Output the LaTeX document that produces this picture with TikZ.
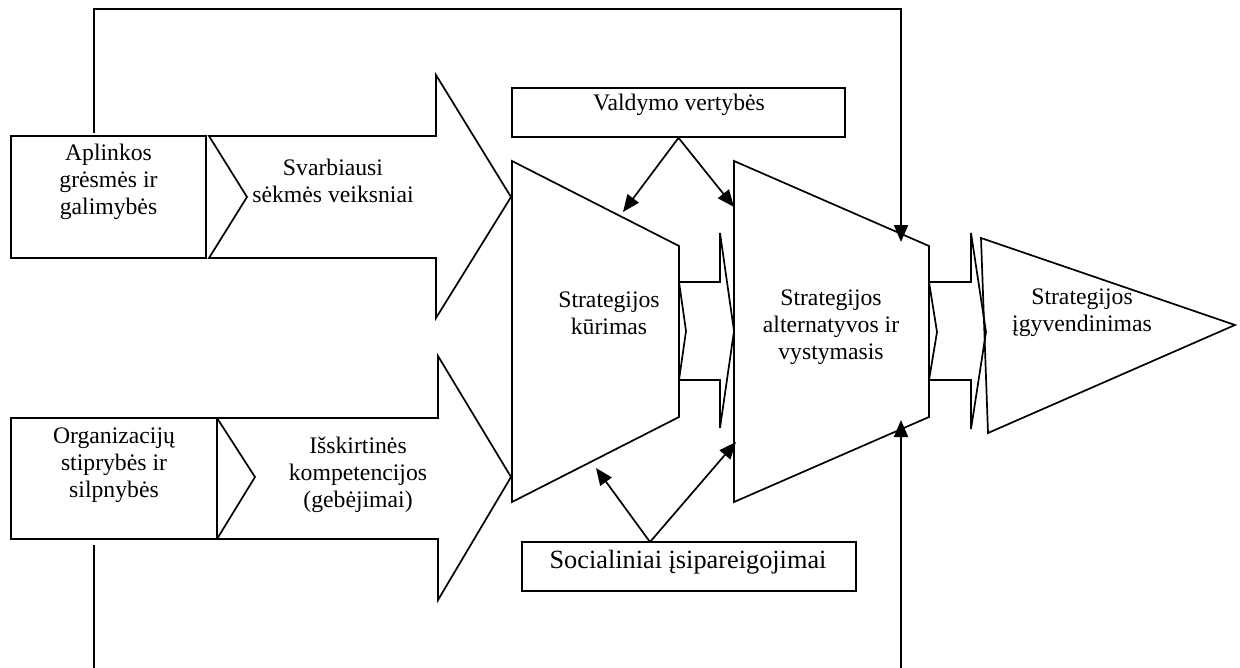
\documentclass[tikz,border=0pt]{standalone}
\usepackage{fontspec}
\setmainfont{Liberation Serif}
\usetikzlibrary{arrows.meta,calc}
\begin{document}
\begin{tikzpicture}[x=0.5pt,y=-0.5pt, line width=0.85pt, line join=miter,
  txt/.style={font=\fontsize{11.85}{13.5}\selectfont, align=center, inner sep=0pt},
  bigtxt/.style={font=\fontsize{13.15}{15}\selectfont, inner sep=0pt},
  box/.style={draw, inner sep=0pt},
  arr/.style={-{Triangle[length=8.5pt,width=7pt]}}]
\useasboundingbox (0,0) rectangle (1240,668);

% rectangular boxes
\node[box, minimum width=97.5pt, minimum height=61pt] (env) at (108.5,197) {};
\node[box, minimum width=103pt, minimum height=60.5pt] (org) at (114,478.5) {};
\node[box, minimum width=166.5pt, minimum height=24.5pt] (val) at (678.5,112.5) {};
\node[box, minimum width=167pt, minimum height=24.5pt] (soc) at (689,566.5) {};

% big block arrows
\draw (209,136) -- (436,136) -- (436,75) -- (511,197) -- (436,318) -- (436,258) -- (209,258) -- (247,197) -- cycle;
\draw (217,418) -- (438,418) -- (438,356) -- (511,477) -- (438,600) -- (438,539) -- (217,539) -- (255,477) -- cycle;

% trapezoids
\draw (512,161) -- (679,246) -- (679,417) -- (512,502) -- cycle;
\draw (734,161) -- (929,246) -- (929,417) -- (734,502) -- cycle;

% small block arrows
\draw (679,282) -- (720,282) -- (720,233) -- (734,331) -- (720,428) -- (720,380) -- (679,380) -- (686,331) -- cycle;
\draw (929,282) -- (971,282) -- (971,233) -- (986,332) -- (971,429) -- (971,380) -- (929,380) -- (937,332) -- cycle;

% triangle
\draw (981,238) -- (1235,325) -- (988,433) -- cycle;

% texts
\node[txt] (envt) at (108.5,182) {Aplinkos\\grėsmės ir\\galimybės};
\node[txt] (orgt) at (114,465) {Organizacijų\\stiprybės ir\\silpnybės};
\node[txt] (ssv) at (333,181) {Svarbiausi\\sėkmės veiksniai};
\node[txt] (isk) at (358,475) {Išskirtinės\\kompetencijos\\(gebėjimai)};
\node[txt] (kur) at (609,313) {Strategijos\\kūrimas};
\node[txt] (alt) at (831,327) {Strategijos\\alternatyvos ir\\vystymasis};
\node[txt] (igy) at (1082,313) {Strategijos\\įgyvendinimas};
\node[txt] (valt) at (679,105) {Valdymo vertybės};
\node[bigtxt] (soct) at (688,562) {Socialiniai įsipareigojimai};

% connector end points
\coordinate (v1) at (623,212);
\coordinate (v2) at (734,207);
\coordinate (sa) at (650,542);
\coordinate (s1) at (596,468);
\coordinate (s2) at (736,442);
\coordinate (ftop) at (94,133);
\coordinate (fbot) at (94,545);
\coordinate (tt) at (901,242);
\coordinate (bt) at (901,420);
\coordinate (lb) at (94,668);
\coordinate (rb) at (901,668);

\draw[arr] (val.south) -- (v1);
\draw[arr] (val.south) -- (v2);
\draw[arr] (sa) -- (s1);
\draw[arr] (sa) -- (s2);
\draw[arr] (ftop) -- (94,9) -- (901,9) -- (tt);
\draw (fbot) -- (lb);
\draw[arr] (rb) -- (bt);
\end{tikzpicture}
\end{document}
